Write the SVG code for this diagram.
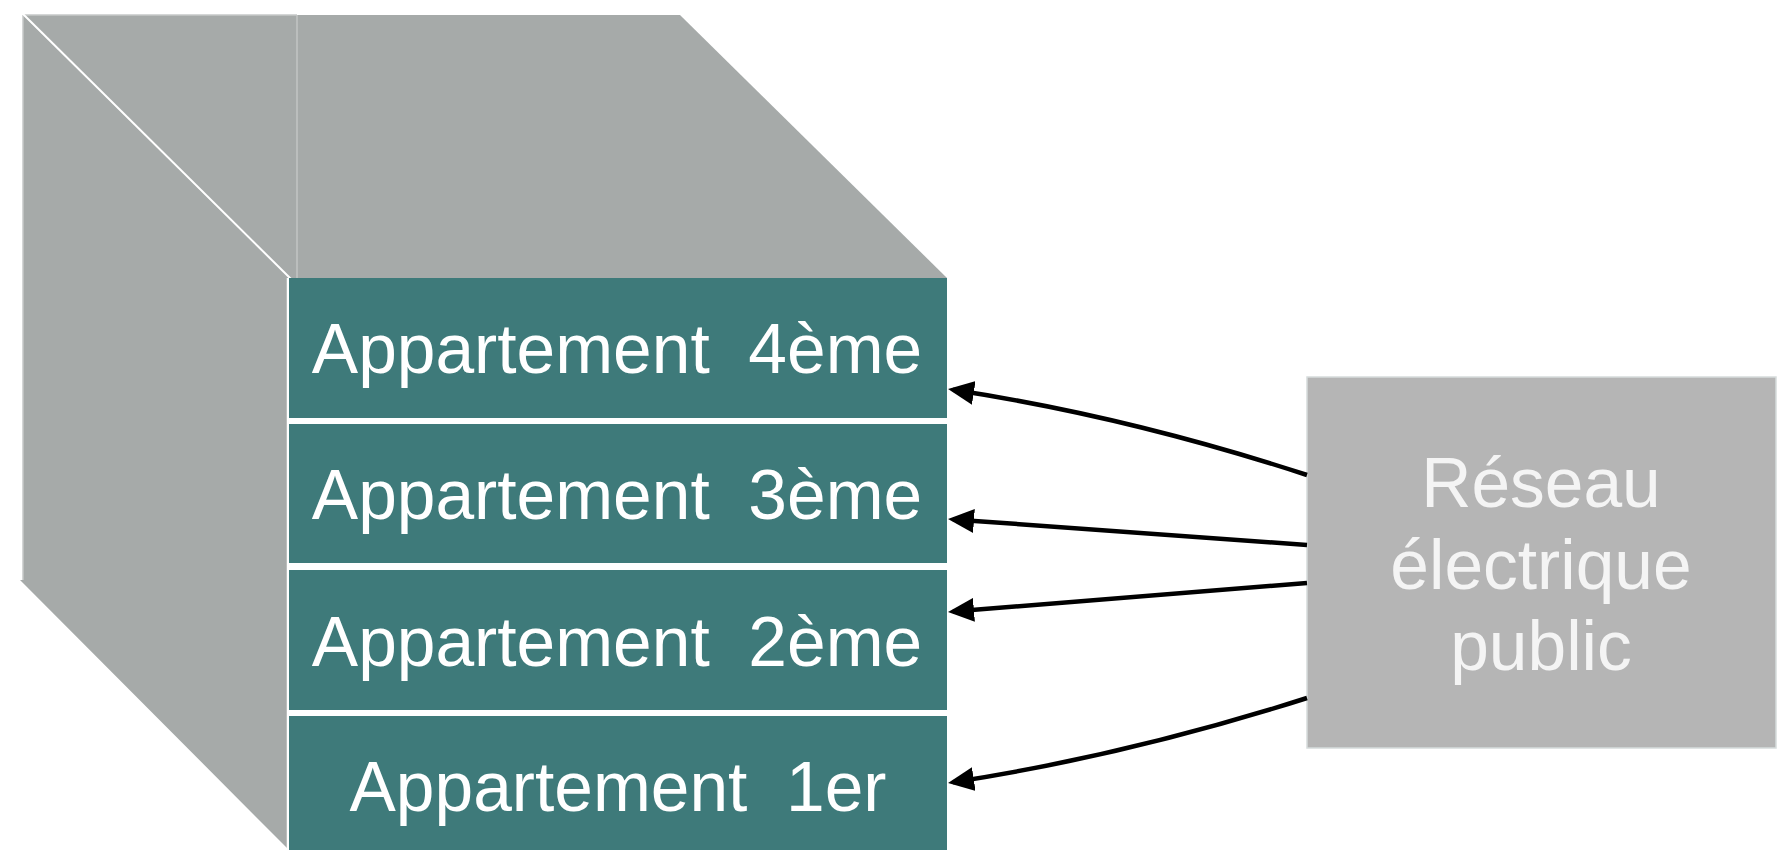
<svg xmlns="http://www.w3.org/2000/svg" width="1784" height="850" viewBox="0 0 1784 850">
  <style>
    .face { fill: #a6aaa9; }
    .apt { fill: #3e7a7a; }
    .apt-label { font-family: "Liberation Sans", Arial, sans-serif; font-size: 69.5px; fill: #ffffff; text-anchor: middle; white-space: pre; }
    .grid-label { font-family: "Liberation Sans", Arial, sans-serif; font-size: 69.5px; fill: #f4f4f4; text-anchor: middle; }
    .conn { fill: none; stroke: #000000; stroke-width: 4.5; }
  </style>
  <defs>
    <marker id="arrow" viewBox="0 0 26 24" refX="21" refY="12" markerWidth="26" markerHeight="24" markerUnits="userSpaceOnUse" orient="auto">
      <path d="M0,0 L26,12 L0,24 z" fill="#000000"/>
    </marker>
  </defs>
  <rect x="0" y="0" width="1784" height="850" fill="#ffffff"/>

  <g id="building">
    <polygon class="face" points="23,15 680,15 947,278 289,278"/>
    <polygon class="face" points="23,15 289,278 287,850 287,848 20,580 23,580"/>
    <line x1="23" y1="15" x2="297" y2="15" stroke="#c6c8c8" stroke-width="1.5"/>
    <line x1="23" y1="15" x2="23" y2="580" stroke="#c6c8c8" stroke-width="1.5"/>
    <line x1="297" y1="15" x2="297" y2="278" stroke="#c2c4c4" stroke-width="1.5"/>
    <line x1="23" y1="14" x2="291" y2="279" stroke="#ffffff" stroke-width="2"/>
    <line x1="288" y1="278" x2="288" y2="850" stroke="#ffffff" stroke-width="2.5"/>
  </g>

  <g id="apt4">
    <rect class="apt" x="289" y="278" width="658" height="140"/>
    <text class="apt-label" x="617" y="373">Appartement  4ème</text>
  </g>
  <g id="apt3">
    <rect class="apt" x="289" y="424" width="658" height="139"/>
    <text class="apt-label" x="617" y="519">Appartement  3ème</text>
  </g>
  <g id="apt2">
    <rect class="apt" x="289" y="570" width="658" height="140"/>
    <text class="apt-label" x="617" y="666">Appartement  2ème</text>
  </g>
  <g id="apt1">
    <rect class="apt" x="289" y="716" width="658" height="140"/>
    <text class="apt-label" x="618" y="811">Appartement  1er</text>
  </g>

  <g id="grid">
    <rect x="1307" y="377" width="469" height="371" fill="#b5b5b5" stroke="#d6dcdc" stroke-width="1.5"/>
    <text class="grid-label" x="1541" y="507">Réseau</text>
    <text class="grid-label" x="1541" y="589">électrique</text>
    <text class="grid-label" x="1541" y="670">public</text>
  </g>

  <g id="connectors">
    <path class="conn" d="M1307,475 Q1126,416 953,389.8" marker-end="url(#arrow)"/>
    <path class="conn" d="M1307,545 L953,519.4" marker-end="url(#arrow)"/>
    <path class="conn" d="M1307,583 L953,611.6" marker-end="url(#arrow)"/>
    <path class="conn" d="M1307,698 Q1127,755.5 953,782.2" marker-end="url(#arrow)"/>
  </g>
</svg>
